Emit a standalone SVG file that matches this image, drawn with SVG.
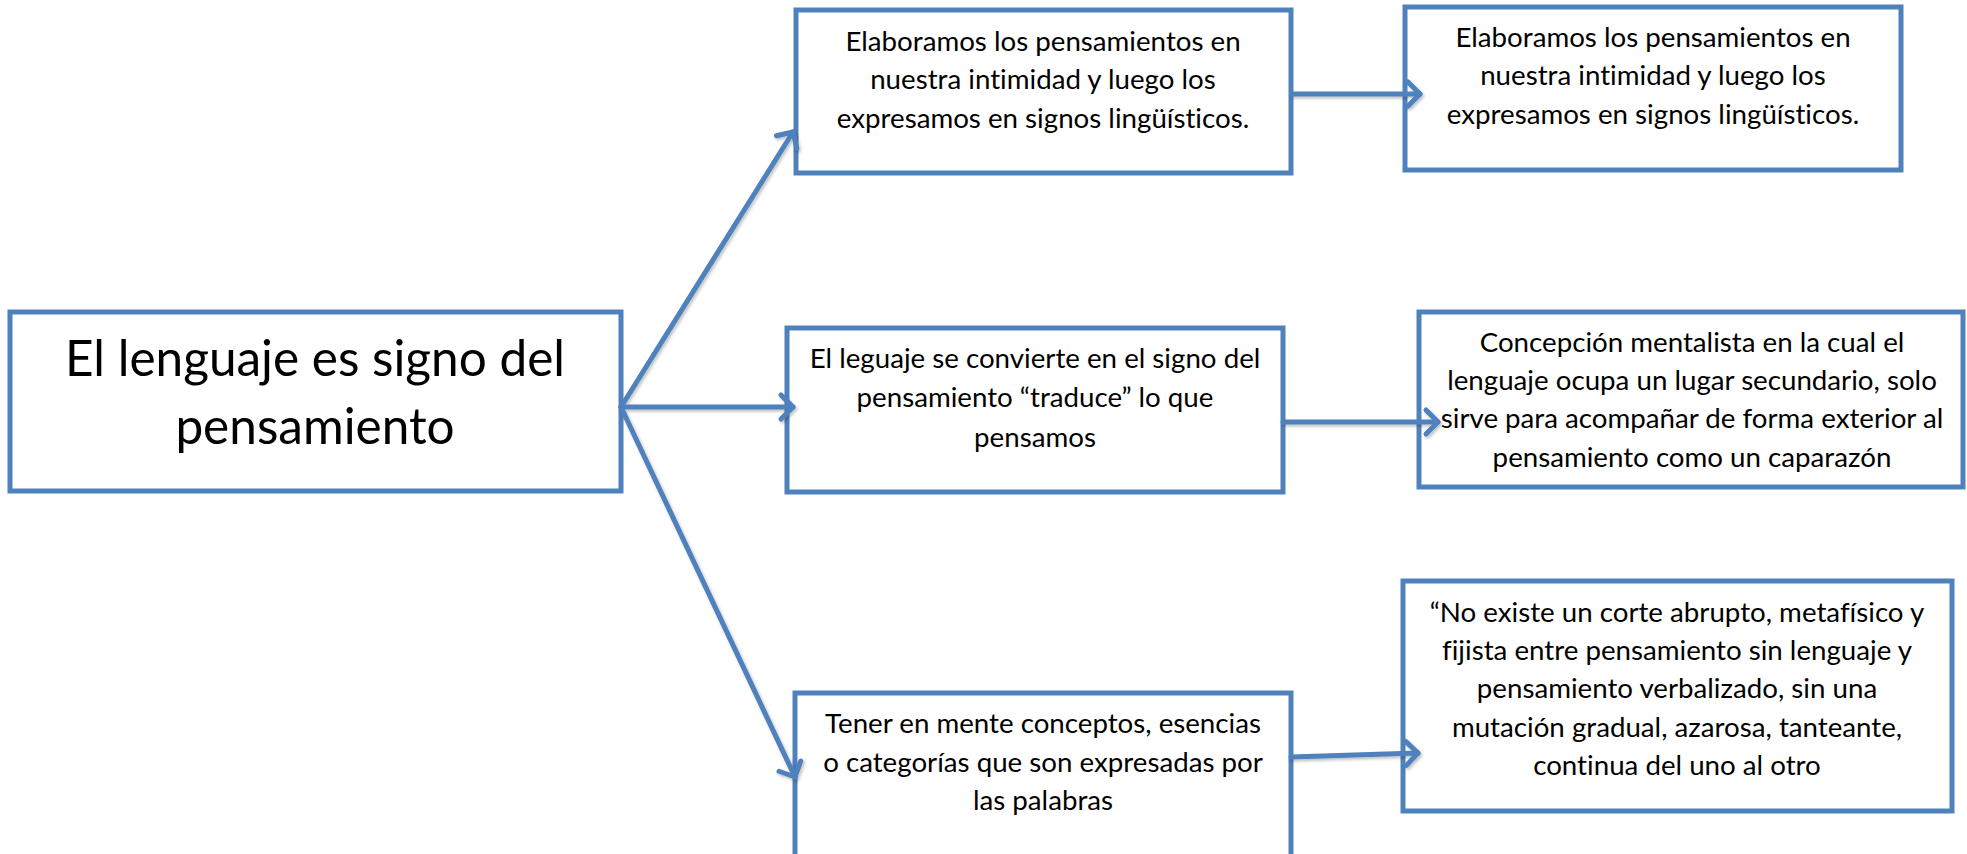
<svg xmlns="http://www.w3.org/2000/svg" width="1967" height="854" viewBox="0 0 1967 854">
<style>
.box{fill:#ffffff;stroke:#4F81BD;stroke-width:5}
.t{font-family:Lato,"Liberation Sans",sans-serif;font-size:27.7px;fill:#000;text-anchor:middle;font-variant-ligatures:none;font-feature-settings:"liga" 0}
.big{font-family:Lato,"Liberation Sans",sans-serif;font-size:49.5px;fill:#000;text-anchor:middle;font-variant-ligatures:none;font-feature-settings:"liga" 0}
.c{fill:none;stroke:#4F81BD;stroke-width:5;stroke-linecap:round}
</style>
<defs>
<marker id="ah" markerUnits="userSpaceOnUse" markerWidth="40" markerHeight="40" refX="0" refY="0" viewBox="-20 -20 40 40" orient="auto" overflow="visible">
<path d="M-12,-12 L0,0 L-12,12" fill="none" stroke="#4F81BD" stroke-width="5" stroke-linecap="round" stroke-linejoin="round"/>
</marker>
<filter id="sh" x="-10%" y="-10%" width="120%" height="120%">
<feDropShadow dx="1.5" dy="2" stdDeviation="1.5" flood-color="#000000" flood-opacity="0.25"/>
</filter>
</defs>
<rect width="1967" height="854" fill="#ffffff"/>
<g id="main">
<rect class="box" x="10" y="312" width="611" height="179"/>
<text class="big" x="315" y="376">El lenguaje es signo del</text>
<text class="big" x="315" y="444">pensamiento</text>
</g>
<g id="boxA">
<rect class="box" x="796" y="10" width="495" height="163"/>
<text class="t" x="1043" y="51">Elaboramos los pensamientos en</text>
<text class="t" x="1043" y="89">nuestra intimidad y luego los</text>
<text class="t" x="1043" y="128">expresamos en signos lingüísticos.</text>
</g>
<g id="boxB">
<rect class="box" x="787" y="328" width="496" height="164"/>
<text class="t" x="1035" y="368">El leguaje se convierte en el signo del</text>
<text class="t" x="1035" y="407">pensamiento “traduce” lo que</text>
<text class="t" x="1035" y="447">pensamos</text>
</g>
<g id="boxC">
<rect class="box" x="795" y="693" width="496" height="170"/>
<text class="t" x="1043" y="733">Tener en mente conceptos, esencias</text>
<text class="t" x="1043" y="772">o categorías que son expresadas por</text>
<text class="t" x="1043" y="810">las palabras</text>
</g>
<g id="boxD">
<rect class="box" x="1405" y="7" width="496" height="163"/>
<text class="t" x="1653" y="47">Elaboramos los pensamientos en</text>
<text class="t" x="1653" y="85">nuestra intimidad y luego los</text>
<text class="t" x="1653" y="124">expresamos en signos lingüísticos.</text>
</g>
<g id="boxE">
<rect class="box" x="1419" y="312" width="544" height="175"/>
<text class="t" x="1692" y="352">Concepción mentalista en la cual el</text>
<text class="t" x="1692" y="390">lenguaje ocupa un lugar secundario, solo</text>
<text class="t" x="1692" y="428">sirve para acompañar de forma exterior al</text>
<text class="t" x="1692" y="467">pensamiento como un caparazón</text>
</g>
<g id="boxF">
<rect class="box" x="1403" y="581" width="549" height="230"/>
<text class="t" x="1677" y="622">“No existe un corte abrupto, metafísico y</text>
<text class="t" x="1677" y="660">fijista entre pensamiento sin lenguaje y</text>
<text class="t" x="1677" y="698">pensamiento verbalizado, sin una</text>
<text class="t" x="1677" y="737">mutación gradual, azarosa, tanteante,</text>
<text class="t" x="1677" y="775">continua del uno al otro</text>
</g>
<g id="connectors" filter="url(#sh)">
<line class="c" x1="621" y1="407" x2="793" y2="132" marker-end="url(#ah)"/>
<line class="c" x1="621" y1="407" x2="793" y2="407" marker-end="url(#ah)"/>
<line class="c" x1="621" y1="407" x2="795" y2="777" marker-end="url(#ah)"/>
<line class="c" x1="1293" y1="94" x2="1420" y2="94" marker-end="url(#ah)"/>
<line class="c" x1="1283" y1="422" x2="1438" y2="422" marker-end="url(#ah)"/>
<line class="c" x1="1291" y1="757" x2="1418" y2="753" marker-end="url(#ah)"/>
</g>
</svg>
